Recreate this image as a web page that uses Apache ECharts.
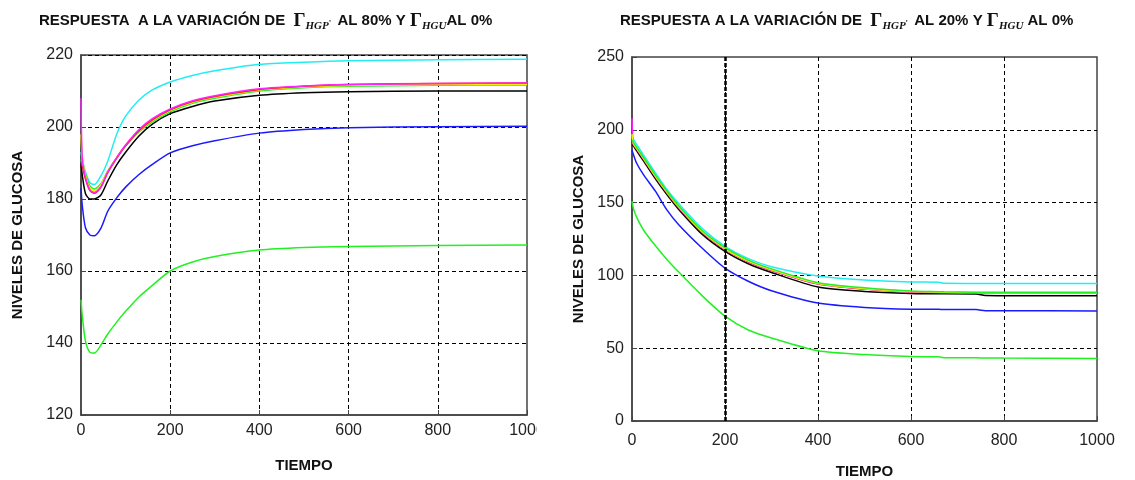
<!DOCTYPE html>
<html>
<head>
<meta charset="utf-8">
<script src="https://cdn.jsdelivr.net/npm/echarts@6/dist/echarts.min.js"></script>
<style>
  html, body { margin: 0; padding: 0; background: #fff; }
  #izq { position: absolute; left: 0; top: 0; width: 537px; height: 480px; }
  #der { position: absolute; left: 560px; top: 0; width: 575px; height: 480px; }
</style>
</head>
<body>
<div id="izq"></div>
<div id="der"></div>
<script>
// ---- Panel izquierdo: Γ_HGP al 80 %, Γ_HGU al 0 % ----
const tiempoIzq = [0, 3, 10, 20, 30, 45, 60, 80, 100, 130, 160, 200, 250, 300, 400, 500, 600, 800, 1000];
const cianIzq     = [193, 191, 187.5, 184.5, 184, 186.5, 190.5, 198, 203, 207.5, 210.3, 212.5, 214.3, 215.6, 217.4, 218, 218.4, 218.7, 218.8];
const magentaIzq  = [208, 191, 186, 182.5, 181.8, 183.5, 187.5, 191.5, 195, 199.3, 202.3, 205, 207.3, 208.7, 210.6, 211.4, 211.8, 212.1, 212.2];
const rojoIzq     = [190, 189, 185.5, 182.3, 181.6, 183.3, 187.3, 191.3, 194.8, 199, 202, 204.8, 207.1, 208.5, 210.4, 211.3, 211.8, 212.1, 212.2];
const amarilloIzq = [198, 191.5, 186.5, 183, 182.3, 184, 187.7, 191.5, 195, 199, 201.8, 204.6, 206.9, 208.3, 210.3, 211.1, 211.5, 211.8, 211.9];
const verdeIzq    = [191, 190, 187, 183.6, 182.8, 184.3, 187.8, 191.5, 194.7, 198.6, 201.4, 204.2, 206.6, 208, 210, 210.9, 211.3, 211.6, 211.7];
const negroIzq    = [190, 186.5, 181.5, 180, 180, 181.2, 185, 189.5, 193, 197.5, 200.8, 203.7, 205.7, 207.2, 208.8, 209.5, 209.8, 210, 210];
const azulIzq     = [183, 178, 172, 170, 169.8, 172, 176.6, 180.3, 183.3, 186.8, 189.6, 192.8, 194.8, 196.2, 198.3, 199.3, 199.8, 200.1, 200.2];
const verdeBajoIzq = [152, 147.5, 140.5, 137.4, 137.2, 139.5, 142.5, 145.8, 148.8, 152.8, 156, 160, 162.5, 164, 165.8, 166.5, 166.8, 167.1, 167.2];
const ejeYIzq = { min: 120, max: 220, interval: 20 };

// ---- Panel derecho: Γ_HGP al 20 %, Γ_HGU al 0 % ----
const tiempoDer = [0, 3, 10, 25, 50, 75, 100, 150, 200, 250, 300, 400, 500, 600, 660, 670, 740, 760, 800, 1000];
const cianDer     = [195, 193.5, 190, 182.5, 170.5, 159, 149.5, 132.5, 120, 111.5, 106, 99.6, 96.8, 95.5, 95.3, 94.6, 94.5, 94.5, 94.5, 94.5];
const verdeDer    = [193, 191.5, 188, 181, 169, 158, 148, 131, 119, 110.5, 104.5, 95, 91.5, 89.3, 88.8, 88.7, 88.5, 88.5, 88.4, 88.4];
const amarilloDer = [197, 190.5, 187.3, 180.3, 168.3, 157.3, 147.3, 130.3, 118.3, 109.8, 103.8, 94.4, 90.9, 88.9, 88.5, 88.4, 88.2, 88.1, 88.1, 88.1];
const magentaDer  = [208, 190.3, 187, 180, 168, 157, 147, 130, 118, 109.5, 103.5, 94.2, 90.7, 88.7, 88.3, 88.2, 88, 88, 88, 88];
const rojoDer     = [191, 190, 186.8, 179.8, 167.8, 156.8, 146.8, 129.8, 117.8, 109.3, 103.3, 94, 90.6, 88.6, 88.2, 88.1, 88, 87.9, 87.9, 87.9];
const negroDer    = [190, 189, 185.5, 178.5, 166.5, 155.5, 145.5, 128.5, 116.5, 108, 102, 92, 89, 87.6, 87.4, 87.4, 87.3, 86.2, 86.1, 86.1];
const azulDer     = [186, 183, 177, 169, 158, 145, 135, 119, 105, 96, 89.5, 81, 78, 76.8, 76.7, 76.6, 76.5, 75.8, 75.7, 75.6];
const verdeBajoDer = [151, 146, 140, 131, 120.5, 111, 102.5, 86.3, 72, 62.5, 57, 48.2, 45.6, 44.3, 44.1, 43.5, 43.4, 43.3, 43.2, 43];
const ejeYDer = { min: 0, max: 250, interval: 50 };
const lineaVerticalDer = 200;

const ejeX = { min: 0, max: 1000, interval: 200 };
const tituloIzq = ['RESPUESTA  A LA VARIACIÓN DE  ', 'HGP', ' AL 80% Y ', 'HGU', 'AL 0%'];
const tituloDer = ['RESPUESTA A LA VARIACIÓN DE  ', 'HGP', ' AL 20% Y ', 'HGU', ' AL 0%'];
const nombreY = 'NIVELES DE GLUCOSA';
const nombreX = 'TIEMPO';

const fuente = "'Liberation Sans', Arial, sans-serif";
const serif = "'Liberation Serif', 'DejaVu Serif', serif";
const COL = { cian: '#22eef2', magenta: '#ff22ff', rojo: '#ff1a1a', amarillo: '#f2f200',
              verde: '#22f022', negro: '#000000', azul: '#1a1aff' };

function pares(t, v) { return t.map((x, i) => [x, v[i]]); }

function serie(t, v, color, extra) {
  return Object.assign({
    type: 'line', data: pares(t, v), showSymbol: false, symbol: 'none',
    smooth: 0.25,
    lineStyle: { color: color, width: 1.5 }, itemStyle: { color: color },
    animation: false, silent: true, z: 3
  }, extra || {});
}

function titulo(partes, left) {
  return {
    left: left, top: 3,
    text: '{t|' + partes[0] + '}{g|Γ}{s|' + partes[1] + '}{p|\'}{t|' + partes[2] + '}{g|Γ}{s|' + partes[3] + '}{t|' + partes[4] + '}',
    textStyle: {
      rich: {
        t: { fontFamily: fuente, fontWeight: 'bold', fontSize: 15, color: '#111', lineHeight: 26 },
        g: { fontFamily: serif, fontSize: 19, color: '#111', lineHeight: 26 },
        s: { fontFamily: serif, fontStyle: 'italic', fontSize: 11, color: '#111', lineHeight: 26, padding: [11, 0, 0, 0] },
        p: { fontFamily: serif, fontSize: 9, color: '#111', lineHeight: 26, padding: [6, 2, 0, 0] }
      }
    }
  };
}

function ejes(y, margenX, gapY) {
  const rejilla = { show: true, lineStyle: { color: '#000', width: 1, type: [4, 3] } };
  const lbl = { fontFamily: fuente, fontSize: 16, color: '#222', formatter: v => String(v) };
  return {
    xAxis: {
      type: 'value', min: ejeX.min, max: ejeX.max, interval: ejeX.interval,
      axisLine: { show: true, onZero: false, lineStyle: { color: '#444', width: 1.5 } },
      axisTick: { show: true, inside: true, length: 5, lineStyle: { color: '#444' } },
      axisLabel: Object.assign({ margin: margenX }, lbl),
      splitLine: Object.assign({ showMinLine: false, showMaxLine: false }, rejilla),
      name: nombreX, nameLocation: 'middle', nameGap: 43,
      nameTextStyle: { fontFamily: fuente, fontWeight: 'bold', fontSize: 15, color: '#111' }
    },
    yAxis: {
      type: 'value', min: y.min, max: y.max, interval: y.interval,
      axisLine: { show: true, onZero: false, lineStyle: { color: '#444', width: 1.5 } },
      axisTick: { show: true, inside: true, length: 5, lineStyle: { color: '#444' } },
      axisLabel: Object.assign({ margin: 8 }, lbl),
      splitLine: Object.assign({ showMinLine: false, showMaxLine: y.lineaMax }, rejilla),
      name: nombreY, nameLocation: 'middle', nameGap: gapY, nameRotate: 90,
      nameTextStyle: { fontFamily: fuente, fontWeight: 'bold', fontSize: 15, color: '#111' }
    }
  };
}

// Panel izquierdo
const chartIzq = echarts.init(document.getElementById('izq'), null, { renderer: 'canvas' });
chartIzq.setOption(Object.assign({
  animation: false,
  title: titulo(tituloIzq, 34),
  grid: { left: 81, top: 55, width: 446, height: 360, show: true, borderColor: '#444', borderWidth: 1.5,
          containLabel: false, outerBoundsMode: 'none' },
  series: [
    serie(tiempoIzq, verdeBajoIzq, COL.verde),
    serie(tiempoIzq, azulIzq, COL.azul),
    serie(tiempoIzq, cianIzq, COL.cian),
    serie(tiempoIzq, negroIzq, COL.negro),
    serie(tiempoIzq, verdeIzq, COL.verde),
    serie(tiempoIzq, amarilloIzq, COL.amarillo),
    serie(tiempoIzq, rojoIzq, COL.rojo),
    serie(tiempoIzq, magentaIzq, COL.magenta)
  ]
}, ejes(Object.assign({ lineaMax: true }, ejeYIzq), 8, 56)));

// Panel derecho
const chartDer = echarts.init(document.getElementById('der'), null, { renderer: 'canvas' });
chartDer.setOption(Object.assign({
  animation: false,
  title: titulo(tituloDer, 55),
  grid: { left: 72, top: 57, width: 465, height: 364, show: true, borderColor: '#444', borderWidth: 1.5,
          containLabel: false, outerBoundsMode: 'none' },
  series: [
    serie(tiempoDer, verdeBajoDer, COL.verde, {
      markLine: {
        silent: true, symbol: 'none', label: { show: false }, animation: false,
        lineStyle: { color: '#000', width: 2.5, type: [4, 2] },
        data: [{ xAxis: lineaVerticalDer }]
      }
    }),
    serie(tiempoDer, azulDer, COL.azul),
    serie(tiempoDer, cianDer, COL.cian),
    serie(tiempoDer, negroDer, COL.negro),
    serie(tiempoDer, rojoDer, COL.rojo),
    serie(tiempoDer, magentaDer, COL.magenta),
    serie(tiempoDer, amarilloDer, COL.amarillo),
    serie(tiempoDer, verdeDer, COL.verde)
  ]
}, ejes(Object.assign({ lineaMax: false }, ejeYDer), 12, 46)));
</script>
</body>
</html>
